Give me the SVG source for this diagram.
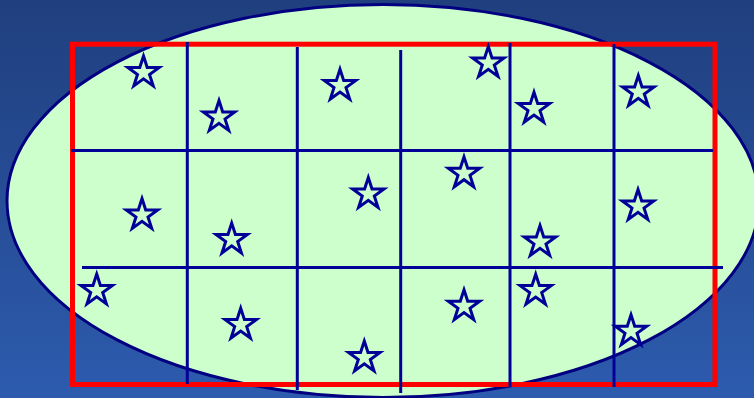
<svg xmlns="http://www.w3.org/2000/svg" xmlns:xlink="http://www.w3.org/1999/xlink" width="754" height="398" viewBox="0 0 754 398">
  <defs>
    <linearGradient id="bg" x1="0" y1="0" x2="0" y2="1">
      <stop offset="0" stop-color="#203f7e"/>
      <stop offset="1" stop-color="#2d5bae"/>
    </linearGradient>
    <polygon id="star" points="0,-16.5 3.71,-5.1 15.69,-5.1 6,1.95 9.7,13.35 0,6.3 -9.7,13.35 -6,1.95 -15.69,-5.1 -3.71,-5.1"/>
  </defs>
  <style>
    .grid line { stroke: #000099; stroke-width: 3; }
    .stars use { fill: #ccffcc; stroke: #000099; stroke-width: 3; stroke-linejoin: miter; }
  </style>
  <rect id="background" x="0" y="0" width="754" height="398" fill="url(#bg)"/>
  <ellipse id="region" cx="383" cy="201" rx="376" ry="196.5" fill="#ccffcc" stroke="#000080" stroke-width="3"/>
  <rect id="frame" x="72.5" y="44.2" width="642.5" height="340.3" fill="none" stroke="#ff0000" stroke-width="5"/>
  <g id="grid" class="grid">
    <line x1="71" y1="150.5" x2="713" y2="150.5"/>
    <line x1="82" y1="267.5" x2="723" y2="267.5"/>
    <line x1="187.3" y1="42" x2="187.3" y2="384"/>
    <line x1="297.3" y1="47" x2="297.3" y2="390"/>
    <line x1="400.7" y1="50" x2="400.7" y2="393"/>
    <line x1="510" y1="43" x2="510" y2="387"/>
    <line x1="614" y1="44" x2="614" y2="387"/>
  </g>
  <g id="stars" class="stars">
    <use xlink:href="#star" x="143.5" y="72.5"/>
    <use xlink:href="#star" x="219" y="117"/>
    <use xlink:href="#star" x="340" y="85.7"/>
    <use xlink:href="#star" x="488.3" y="63"/>
    <use xlink:href="#star" x="534" y="108.7"/>
    <use xlink:href="#star" x="638.3" y="92"/>
    <use xlink:href="#star" x="142" y="215"/>
    <use xlink:href="#star" x="231.7" y="239.6"/>
    <use xlink:href="#star" x="368.3" y="194"/>
    <use xlink:href="#star" x="464" y="173.4"/>
    <use xlink:href="#star" x="540" y="242"/>
    <use xlink:href="#star" x="638" y="206"/>
    <use xlink:href="#star" x="96.7" y="290.5"/>
    <use xlink:href="#star" x="240.7" y="324.7"/>
    <use xlink:href="#star" x="464" y="306.3"/>
    <use xlink:href="#star" x="535.7" y="290.7"/>
    <use xlink:href="#star" x="364.3" y="357.5"/>
    <use xlink:href="#star" x="631" y="331.3"/>
  </g>
</svg>
